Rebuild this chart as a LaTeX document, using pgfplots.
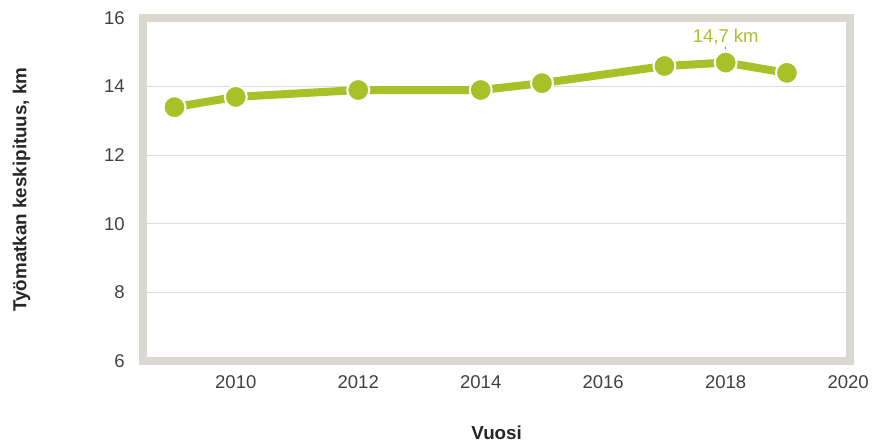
\documentclass[border=0pt]{standalone}
\usepackage{fontspec}
\setmainfont{Liberation Sans}
\usepackage{pgfplots}
\pgfplotsset{compat=1.18}
\definecolor{frameGray}{RGB}{219,215,209}
\definecolor{lineGreen}{RGB}{169,193,40}
\definecolor{txtGray}{RGB}{64,64,64}
\definecolor{gridGray}{RGB}{221,221,221}

\begin{document}
\begin{tikzpicture}
\useasboundingbox (0pt,0pt) rectangle (873pt,444pt);
\begin{axis}[
  at={(143.3pt,83pt)}, anchor=south west,
  scale only axis, width=706.7pt, height=343pt,
  xmin=2008.49, xmax=2020.03, ymin=6, ymax=16,
  xtick={2010,2012,...,2020}, ytick={6,8,...,16},
  xticklabel style={/pgf/number format/1000 sep={}},
  /pgf/number format/assume math mode=true,
  tick label style={font=\fontsize{18.5}{22}\selectfont, text=txtGray},
  major tick length=0pt,
  xticklabel shift=11pt, yticklabel shift=15pt,
  axis line style={line width=8.3pt, frameGray},
  ymajorgrids, grid style={gridGray, line width=1pt},
  xlabel={\bfseries Vuosi},
  ylabel={\bfseries Työmatkan keskipituus, km},
  label style={font=\fontsize{18.8}{22}\selectfont\bfseries, text=black!85},
  xlabel style={at={(axis description cs:0.5,0)}, anchor=base, yshift=-79pt},
  ylabel style={at={(axis description cs:0,0.5)}, anchor=base, yshift=117pt},
  clip=false,
]
\addplot[lineGreen, line width=8pt, mark=*,
  mark options={fill=lineGreen, draw=white, line width=2pt},
  mark size=11pt]
  coordinates {(2009,13.4)(2010,13.7)(2012,13.9)(2014,13.9)(2015,14.1)(2017,14.6)(2018,14.7)(2019,14.4)};
\draw[gray, line width=1pt] ([yshift=14pt]axis cs:2018,14.7) -- ([yshift=16pt]axis cs:2018,14.7);
\node[text=lineGreen, font=\fontsize{18.5}{22}\selectfont, anchor=base]
  at ([yshift=20pt]axis cs:2018,14.7) {14,7 km};
\end{axis}
\end{tikzpicture}
\end{document}
